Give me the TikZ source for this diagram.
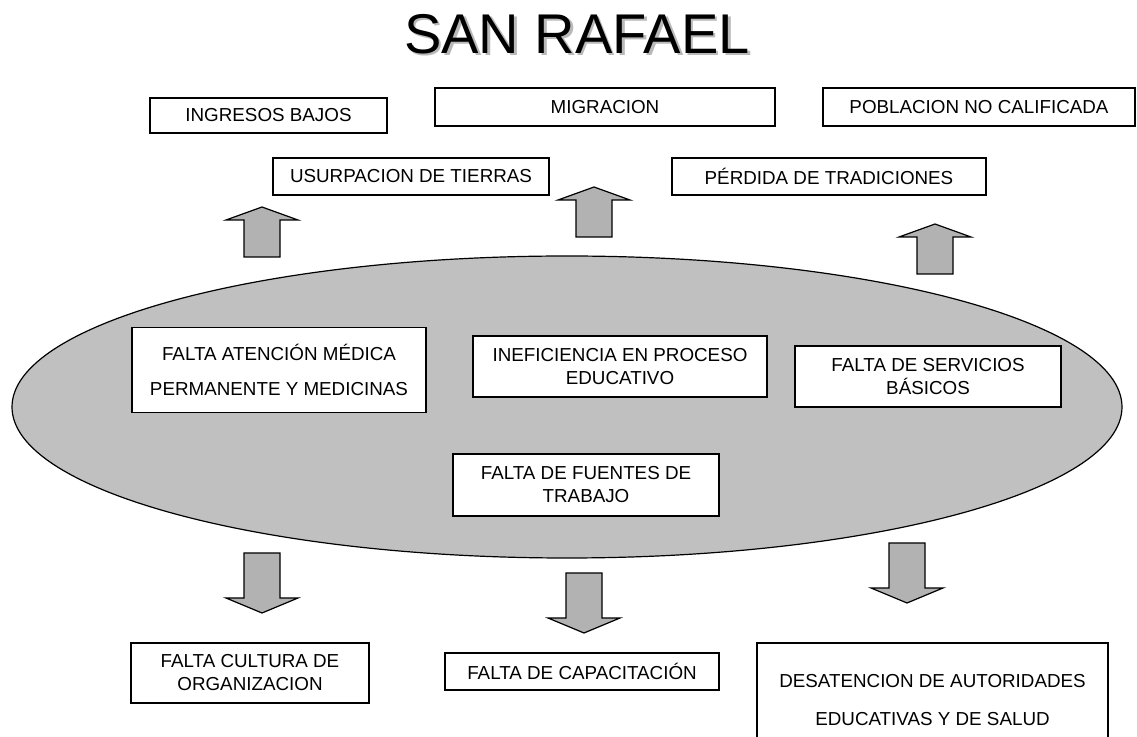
\documentclass[tikz,border=0pt]{standalone}
\usepackage{fontspec}
\setmainfont{Liberation Sans}
\definecolor{elipsegris}{HTML}{C0C0C0}
\definecolor{flechagris}{HTML}{B2B2B2}
\tikzset{
    caja/.style={draw, line width=0.6pt, fill=white, inner sep=0pt, align=center,
        font=\fontsize{9.4}{11.5}\selectfont},
    titulo/.style={font=\fontsize{28}{32}\selectfont, inner sep=0pt},
    flecha/.style={draw, line width=0.6pt, fill=flechagris},
    pics/arriba/.style={code={
        \path[flecha] (-18,0) -- (-18,-37) -- (-36,-37) -- (0,-50) --
            (36,-37) -- (18,-37) -- (18,0) -- cycle;}},
    pics/abajo/.style={code={
        \path[flecha] (-18,0) -- (-18,45) -- (-36,45) -- (0,60) --
            (36,45) -- (18,45) -- (18,0) -- cycle;}}
}
\begin{document}
\begin{tikzpicture}[x=0.5pt, y=-0.5pt]
    \useasboundingbox (0,0) rectangle (1137,737);
    % titulo
    \node[titulo, text=gray!55] (sombra) at (579.5,36.5) {SAN RAFAEL};
    \node[titulo] (nombre) at (577,34) {SAN RAFAEL};
    % efectos
    \node[caja, minimum width=118.5pt, minimum height=17.5pt] (ingresos) at (268.5,115.5) {INGRESOS BAJOS};
    \node[caja, minimum width=170pt, minimum height=19pt] (migracion) at (605,107) {MIGRACION};
    \node[caja, minimum width=156pt, minimum height=19pt] (poblacion) at (979,107) {POBLACION NO CALIFICADA};
    \node[caja, minimum width=138pt, minimum height=18.5pt] (usurpacion) at (411,176.5) {USURPACION DE TIERRAS};
    \node[caja, minimum width=157pt, minimum height=18.5pt] (perdida) at (829,176.5) {PÉRDIDA DE TRADICIONES};
    \pic at (262,257) {arriba};
    \pic at (594,237) {arriba};
    \pic at (935,274) {arriba};
    % problema central
    \draw[line width=0.6pt, fill=elipsegris] (567,407) ellipse [x radius=555, y radius=151];
    \node[caja, minimum width=147pt, minimum height=42.5pt] (atencion) at (279,370) {FALTA ATENCIÓN MÉDICA\\[6pt]PERMANENTE Y MEDICINAS};
    \node[caja, minimum width=147pt, minimum height=30.5pt] (ineficiencia) at (620,366.5) {INEFICIENCIA EN PROCESO\\EDUCATIVO};
    \node[caja, minimum width=133pt, minimum height=30.5pt] (servicios) at (928,376.5) {FALTA DE SERVICIOS\\BÁSICOS};
    \node[caja, minimum width=133pt, minimum height=31pt] (fuentes) at (586,485) {FALTA DE FUENTES DE\\TRABAJO};
    % causas
    \pic at (262,553) {abajo};
    \pic at (584,573) {abajo};
    \pic at (907,543) {abajo};
    \node[caja, minimum width=119pt, minimum height=30pt] (cultura) at (250,673) {FALTA CULTURA DE\\ORGANIZACION};
    \node[caja, minimum width=137pt, minimum height=18.5pt] (capacitacion) at (582,671.5) {FALTA DE CAPACITACIÓN};
    \node[caja, minimum width=175.5pt, minimum height=57pt] (desatencion) at (932.5,700) {DESATENCION DE AUTORIDADES\\[7.5pt]EDUCATIVAS Y DE SALUD};
\end{tikzpicture}
\end{document}
